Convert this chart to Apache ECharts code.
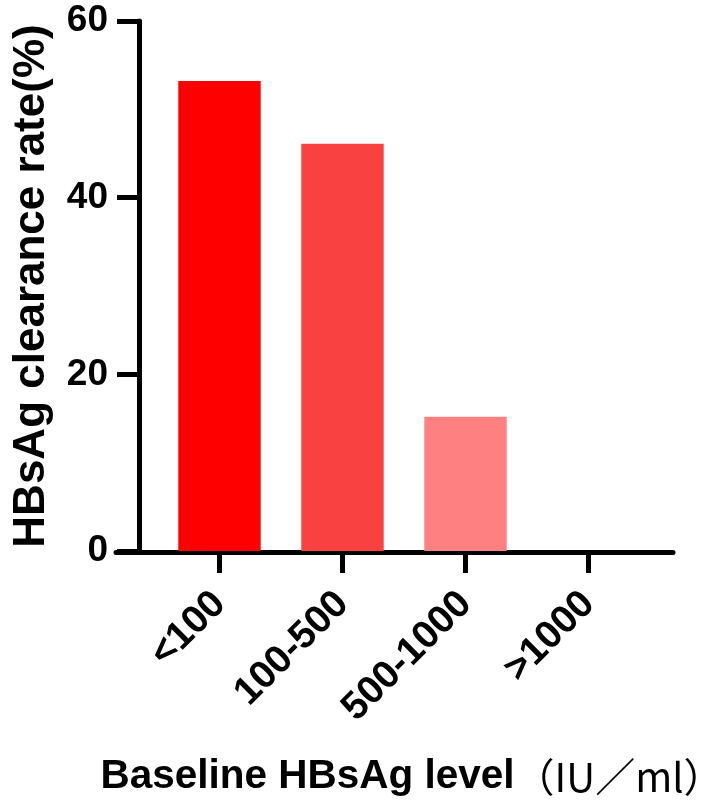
<!DOCTYPE html>
<html>
<head>
<meta charset="utf-8">
<script src="https://cdn.jsdelivr.net/npm/echarts@6/dist/echarts.min.js"></script>
<style>
html,body{margin:0;padding:0;background:#fff;}
#chart{width:709px;height:805px;}
</style>
</head>
<body>
<div id="chart"></div>
<script>
const categories = ['<100', '100-500', '500-1000', '>1000'];
const clearanceRate = [53.2, 46.1, 15.2, 0];
const yTicks = [0, 20, 40, 60];
const yAxisTitle = 'HBsAg clearance rate(%)';
const xAxisTitleMain = 'Baseline HBsAg level';
const xAxisTitleUnit = '（IU／ml）';

const barColors = ['#FF0000', '#F94141', '#FF8080', '#FF8080'];
const FONT = '"Liberation Sans", Arial, sans-serif';

const chart = echarts.init(document.getElementById('chart'), null, {renderer: 'canvas'});
chart.setOption({
  backgroundColor: '#ffffff',
  animation: false,
  grid: [
    {left: 158, right: 59, top: 21, bottom: 254, containLabel: false, outerBoundsMode: 'none'},
    {left: 116, right: 36, top: 21, bottom: 252.5, containLabel: false, outerBoundsMode: 'none'}
  ],
  xAxis: [
    {
      type: 'category',
      gridIndex: 0,
      data: categories,
      axisLine: {show: false},
      axisTick: {show: true, alignWithLabel: true, length: 22, lineStyle: {color: '#000', width: 5}},
      axisLabel: {
        rotate: 45, margin: 47, interval: 0,
        color: '#000', fontFamily: FONT, fontWeight: 'bold', fontSize: 39
      },
      name: '{m|' + xAxisTitleMain + '}{u|' + xAxisTitleUnit + '}',
      nameLocation: 'middle',
      nameGap: 205,
      nameMoveOverlap: false,
      nameTextStyle: {
        padding: [0, 0, 0, 16],
        rich: {
          m: {fontFamily: FONT, fontWeight: 'bold', fontSize: 40.5, color: '#000'},
          u: {fontFamily: '"Noto Sans CJK SC"', fontWeight: 'normal', fontSize: 40, color: '#000'}
        }
      },
      splitLine: {show: false}
    },
    {
      type: 'value',
      gridIndex: 1,
      min: 0, max: 1,
      axisLine: {show: true, lineStyle: {color: '#000', width: 5}},
      axisTick: {show: false},
      axisLabel: {show: false},
      splitLine: {show: false}
    }
  ],
  yAxis: [
    {
      type: 'value',
      gridIndex: 0,
      min: yTicks[0], max: yTicks[yTicks.length - 1], interval: 20,
      offset: 19,
      axisLine: {show: true, lineStyle: {color: '#000', width: 5}},
      axisTick: {show: true, length: 22, lineStyle: {color: '#000', width: 5}},
      axisLabel: {margin: 31, color: '#000', fontFamily: FONT, fontWeight: 'bold', fontSize: 37},
      splitLine: {show: false},
      name: yAxisTitle,
      nameLocation: 'middle',
      nameGap: 85,
      nameMoveOverlap: false,
      nameTextStyle: {fontFamily: FONT, fontWeight: 'bold', fontSize: 44, color: '#000'}
    },
    {
      type: 'value',
      gridIndex: 1,
      show: false,
      min: 0, max: 1
    }
  ],
  series: [
    {
      type: 'bar',
      xAxisIndex: 0,
      yAxisIndex: 0,
      barCategoryGap: '33%',
      data: clearanceRate.map((v, i) => ({value: v, itemStyle: {color: barColors[i]}}))
    }
  ]
});
</script>
</body>
</html>
